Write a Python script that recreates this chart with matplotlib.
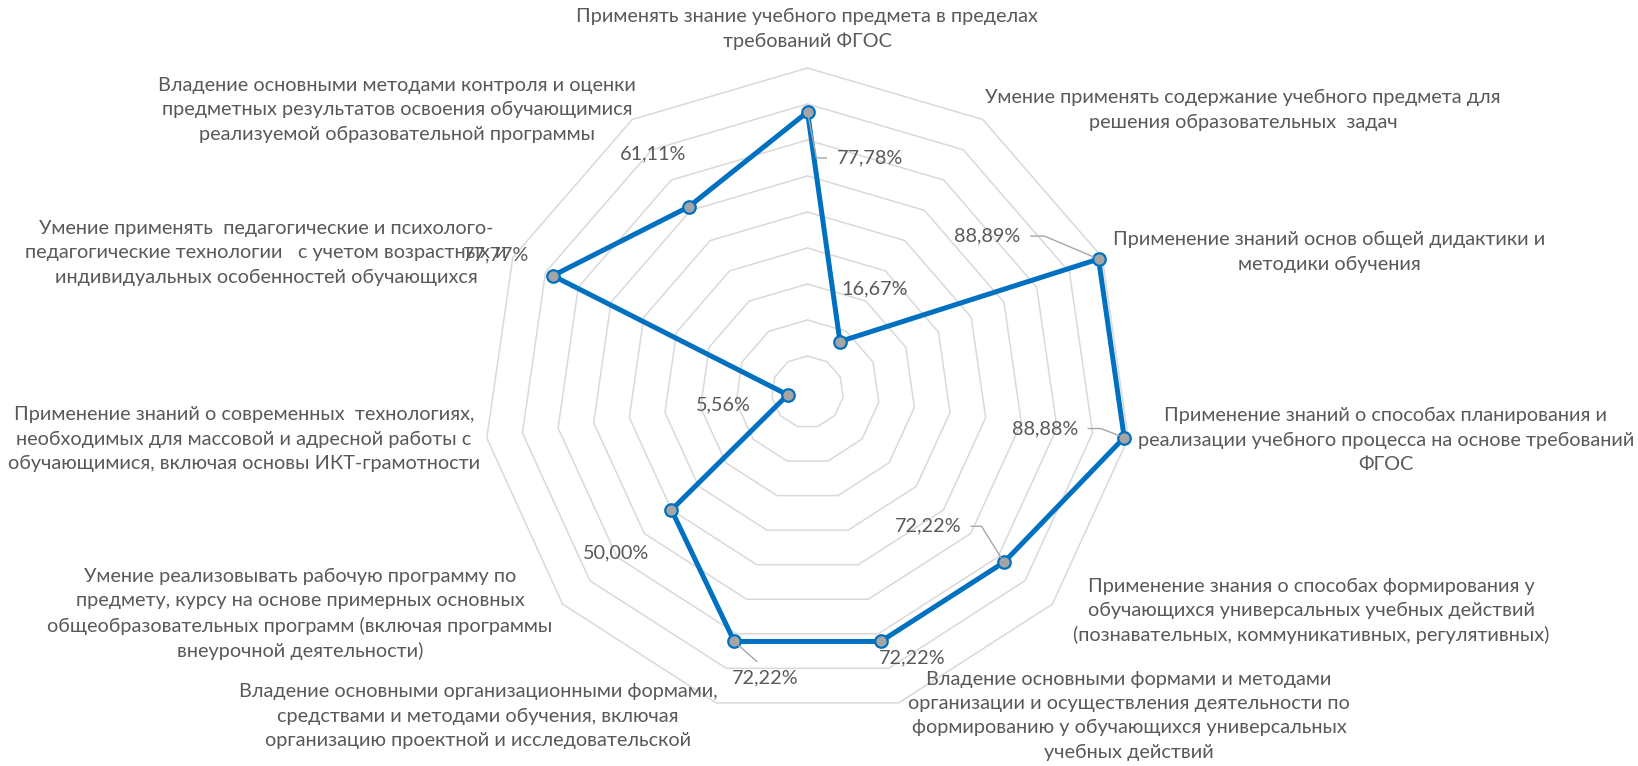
import numpy as np
import matplotlib.pyplot as plt

plt.rcParams['font.family'] = ['Lato', 'Open Sans', 'DejaVu Sans']

# категории (по часовой стрелке, начиная сверху)
categories = [
    'Применять знание учебного предмета в пределах\nтребований ФГОС',
    'Умение применять содержание учебного предмета для\nрешения образовательных  задач',
    'Применение знаний основ общей дидактики и\nметодики обучения',
    'Применение знаний о способах планирования и\nреализации учебного процесса на основе требований\nФГОС',
    'Применение знания о способах формирования у\nобучающихся универсальных учебных действий\n(познавательных, коммуникативных, регулятивных)',
    'Владение основными формами и методами\nорганизации и осуществления деятельности по\nформированию у обучающихся универсальных\nучебных действий',
    'Владение основными организационными формами,\nсредствами и методами обучения, включая\nорганизацию проектной и исследовательской',
    'Умение реализовывать рабочую программу по\nпредмету, курсу на основе примерных основных\nобщеобразовательных программ (включая программы\nвнеурочной деятельности)',
    'Применение знаний о современных  технологиях,\nнеобходимых для массовой и адресной работы с\nобучающимися, включая основы ИКТ-грамотности',
    'Умение применять  педагогические и психолого-\nпедагогические технологии   с учетом возрастных и\nиндивидуальных особенностей обучающихся',
    'Владение основными методами контроля и оценки\nпредметных результатов освоения обучающимися\nреализуемой образовательной программы',
]
values = [0.7778, 0.1667, 0.8889, 0.8888, 0.7222, 0.7222, 0.7222, 0.5000, 0.0556, 0.7777, 0.6111]
value_labels = ['77,78%', '16,67%', '88,89%', '88,88%', '72,22%', '72,22%', '72,22%',
                '50,00%', '5,56%', '77,77%', '61,11%']
ring_levels = [0.1, 0.2, 0.3, 0.4, 0.5, 0.6, 0.7, 0.8, 0.9]

W, H = 1638, 766
TEXT = '#595959'
FS = 14.3

# положения подписей категорий (центр блока, пиксели от левого верхнего угла)
cat_pos = [(807, 29), (1243, 110), (1329, 252), (1386, 440), (1311, 611),
           (1129, 716), (478, 716), (300, 614), (244, 439), (266, 253), (397, 110)]

# смещения подписей значений от маркера (пиксели) и выноски
lbl_off = [(62, -46), (35, 53), (-111, 23), (-79, 9), (-76, 36), (31, -16),
           (31, -36), (-55, -43), (-64, -10), (-57, 21), (-35, 53)]
leaders = {0: ('angle,angleA=0,angleB=-79,rad=0', (0, 0.5)),
           2: ('angle,angleA=0,angleB=-23,rad=0', (1, 0.5)),
           3: ('angle,angleA=0,angleB=-21,rad=0', (1, 0.5)),
           4: ('angle,angleA=0,angleB=-58,rad=0', (1, 0.5)),
           6: ('arc3,rad=0', (0.5, 1))}

n = len(values)
angles = np.linspace(0, 2 * np.pi, n, endpoint=False)
ang_c = np.append(angles, angles[0])
val_c = np.append(values, values[0])

fig = plt.figure(figsize=(W / 100, H / 100), dpi=100)
cx, cy, R = 807.5, 392, 324
ax = fig.add_axes([(cx - R) / W, (H - cy - R) / H, 2 * R / W, 2 * R / H], projection='polar')
ax.set_theta_zero_location('N')
ax.set_theta_direction(-1)
ax.set_ylim(0, 0.9)
ax.grid(False)
ax.spines['polar'].set_visible(False)
ax.set_xticks([])
ax.set_yticks([])
ax.patch.set_alpha(0)

for lvl in ring_levels:
    ax.plot(ang_c, [lvl] * (n + 1), color='#D9D9D9', lw=1.1, zorder=1, clip_on=False)

ax.plot(ang_c, val_c, color='#0070C0', lw=3.6, zorder=3, clip_on=False,
        solid_joinstyle='round')
ax.plot(angles, values, 'o', ms=9, mfc='#A5A5A5', mec='#0070C0', mew=1.6,
        zorder=4, clip_on=False)

for i, (a, v) in enumerate(zip(angles, values)):
    kw = {}
    if i in leaders:
        cs, rp = leaders[i]
        kw['arrowprops'] = dict(arrowstyle='-', color='#A6A6A6', lw=1.0,
                                connectionstyle=cs, relpos=rp,
                                shrinkA=5, shrinkB=4)
    ax.annotate(value_labels[i], xy=(a, v), xytext=lbl_off[i],
                textcoords='offset pixels', ha='center', va='center',
                fontsize=FS, color=TEXT, zorder=5, annotation_clip=False, **kw)

for lab, (x, y) in zip(categories, cat_pos):
    fig.text(x / W, 1 - y / H, lab, ha='center', va='center', ma='center',
             fontsize=FS, color=TEXT, linespacing=1.5)

fig.savefig('out.png', dpi=100, facecolor='white')
